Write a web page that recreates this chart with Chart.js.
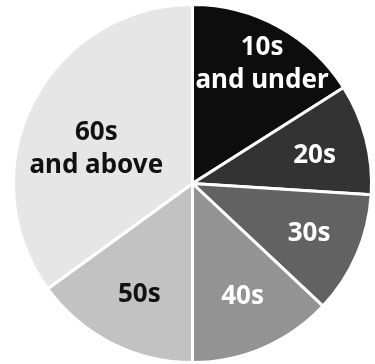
<!DOCTYPE html>
<html>
<head>
<meta charset="utf-8">
<script src="https://cdn.jsdelivr.net/npm/chart.js@4"></script>
<style>
  html, body { margin: 0; padding: 0; background: #fff; }
  #wrap { width: 375px; height: 364px; }
</style>
</head>
<body>
<div id="wrap"><canvas id="pieCanvas"></canvas></div>
<script>
// age groups and their share (%)
const ageGroups = [["10s", "and under"], ["20s"], ["30s"], ["40s"], ["50s"], ["60s", "and above"]];
const shares = [16, 10, 11, 13, 15, 35];

const sliceColors = ["#0d0d0d", "#333333", "#626262", "#939393", "#c2c2c2", "#e6e6e6"];
const textColors = ["#ffffff", "#ffffff", "#ffffff", "#ffffff", "#111111", "#111111"];
// where each label sits: fraction of the radius, and a turn (deg) off the slice middle
const labelDist = [0.77, 0.70, 0.71, 0.69, 0.69, 0.57];
const labelTurn = [1.5, 1.5, 0, -0.5, -1.5, -7.5];

const sliceLabels = {
    id: "sliceLabels",
    afterDatasetsDraw(chart) {
        const ctx = chart.ctx;
        const arcs = chart.getDatasetMeta(0).data;
        ctx.save();
        ctx.font = "bold 26px 'Noto Sans'";
        ctx.textAlign = "center";
        ctx.textBaseline = "middle";
        arcs.forEach(function(arc, i) {
            const p = arc.getProps(["x", "y", "startAngle", "endAngle", "outerRadius"], true);
            const mid = (p.startAngle + p.endAngle) / 2 + labelTurn[i] * Math.PI / 180;
            const r = p.outerRadius * labelDist[i];
            const cx = p.x + Math.cos(mid) * r;
            const cy = p.y + Math.sin(mid) * r;
            const lines = ageGroups[i];
            const lh = 33;
            ctx.fillStyle = textColors[i];
            lines.forEach(function(line, k) {
                ctx.fillText(line, cx, cy + (k - (lines.length - 1) / 2) * lh);
            });
        });
        ctx.restore();
    }
};

pieCanvas = document.getElementById("pieCanvas");

pieChart = new Chart(pieCanvas, {
    type: "pie",
    data: {
        labels: ageGroups.map(function(l) { return l.join(" "); }),
        datasets: [{
            data: shares,
            backgroundColor: sliceColors,
            borderColor: "#ffffff",
            borderWidth: 3
        }]
    },
    options: {
        responsive: true,
        maintainAspectRatio: false,
        animation: false,
        layout: { padding: { left: 10, right: 0, top: 3, bottom: 0 } },
        plugins: {
            legend: { display: false },
            tooltip: { enabled: false }
        }
    },
    plugins: [sliceLabels]
});
</script>
</body>
</html>
